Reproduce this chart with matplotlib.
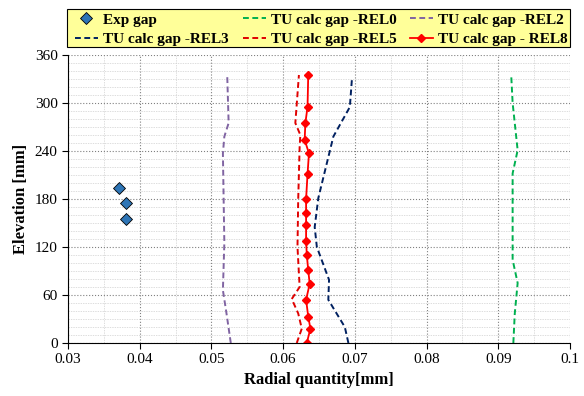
import matplotlib
matplotlib.use("Agg")
import matplotlib.pyplot as plt
from matplotlib.ticker import MultipleLocator
from matplotlib.patches import Rectangle

plt.rcParams['font.family'] = ['Liberation Serif', 'DejaVu Serif']

# measured gap
exp_x = [0.0371, 0.0381, 0.0381]
exp_y = [194, 175, 155]

# calculated gaps
rel0_x = [0.0921, 0.0923, 0.0927, 0.0920, 0.0920, 0.0927, 0.0920, 0.0918]
rel0_y = [0, 37, 75, 104, 212, 241, 300, 335]

rel2_x = [0.0527, 0.0521, 0.0516, 0.0518, 0.0516, 0.0518, 0.0524, 0.0522]
rel2_y = [0, 37, 66, 125, 237, 258, 275, 335]

rel3_x = [0.0691, 0.0686, 0.0663, 0.0664, 0.0647, 0.0644, 0.0649, 0.0670, 0.0693, 0.0696]
rel3_y = [0, 20, 54, 79, 120, 145, 181, 258, 295, 331]

rel5_x = [0.0619, 0.0626, 0.0621, 0.0612, 0.0623, 0.0620, 0.0621, 0.0623, 0.0624, 0.0617, 0.0622]
rel5_y = [0, 18, 37, 55, 70, 120, 179, 245, 260, 275, 335]

rel8_x = [0.0633, 0.0638, 0.0635, 0.0632, 0.0637, 0.0635, 0.0633, 0.0632, 0.0632,
          0.0632, 0.0632, 0.0634, 0.0636, 0.0630, 0.0631, 0.0634, 0.0635]
rel8_y = [0, 18, 33, 54, 74, 91, 110, 128, 147, 163, 180, 211, 237, 254, 275, 295, 335]

W, H = 584, 396
fig = plt.figure(figsize=(W / 100, H / 100), dpi=100)
ax = fig.add_axes([68 / W, 1 - 343 / H, 502 / W, 288 / H])

dash = (3, 1.8)
h_exp, = ax.plot(exp_x, exp_y, 'D', color='#2E75B6', mec='black', mew=0.6, ms=6,
                 label='Exp gap', zorder=5)
h0, = ax.plot(rel0_x, rel0_y, '--', dashes=dash, color='#00B050', lw=1.4, label='TU calc gap -REL0')
h2, = ax.plot(rel2_x, rel2_y, '--', dashes=dash, color='#8064A2', lw=1.4, label='TU calc gap -REL2')
h3, = ax.plot(rel3_x, rel3_y, '--', dashes=dash, color='#002060', lw=1.4, label='TU calc gap -REL3')
h5, = ax.plot(rel5_x, rel5_y, '--', dashes=dash, color='#E00000', lw=1.4, label='TU calc gap -REL5')
h8, = ax.plot(rel8_x, rel8_y, '-D', color='#FF0000', lw=1.3, ms=4.5,
              label='TU calc gap - REL8')

ax.set_xlim(0.03, 0.1)
ax.set_ylim(0, 360)
ax.xaxis.set_major_locator(MultipleLocator(0.01))
ax.xaxis.set_minor_locator(MultipleLocator(0.005))
ax.yaxis.set_major_locator(MultipleLocator(60))
ax.yaxis.set_minor_locator(MultipleLocator(10))
ax.xaxis.set_major_formatter(plt.FuncFormatter(
    lambda v, p: '0.1' if abs(v - 0.1) < 1e-9 else '%.2f' % v))

ax.grid(which='major', color='#808080', ls=':', lw=0.8)
ax.grid(which='minor', color='#D0D0D0', ls=(0, (2, 1.5)), lw=0.5)
ax.set_axisbelow(True)
for s in ['top', 'right']:
    ax.spines[s].set_visible(False)
ax.tick_params(which='minor', length=0)
ax.tick_params(which='major', direction='out', length=4, labelsize=11)

ax.set_xlabel('Radial quantity[mm]', fontsize=12, fontweight='bold')
ax.set_ylabel('Elevation [mm]', fontsize=12, fontweight='bold')

# legend box: yellow frame with three columns
fig.patches.append(Rectangle((67 / W, 1 - 47 / H), 503 / W, 38 / H,
                             transform=fig.transFigure, facecolor='#FFFF99',
                             edgecolor='black', lw=0.8, zorder=0))
columns = [[h_exp, h3], [h0, h5], [h2, h8]]
col_x = [75, 243, 410]
for hs, cx in zip(columns, col_x):
    lg = fig.legend(handles=hs, loc='upper left', bbox_to_anchor=(cx / W, 1 - 13 / H),
                    prop={'weight': 'bold', 'size': 11}, frameon=False,
                    borderpad=0, labelspacing=0.4, handlelength=1.5,
                    handletextpad=0.35, borderaxespad=0)

fig.savefig('out.png', dpi=100)
